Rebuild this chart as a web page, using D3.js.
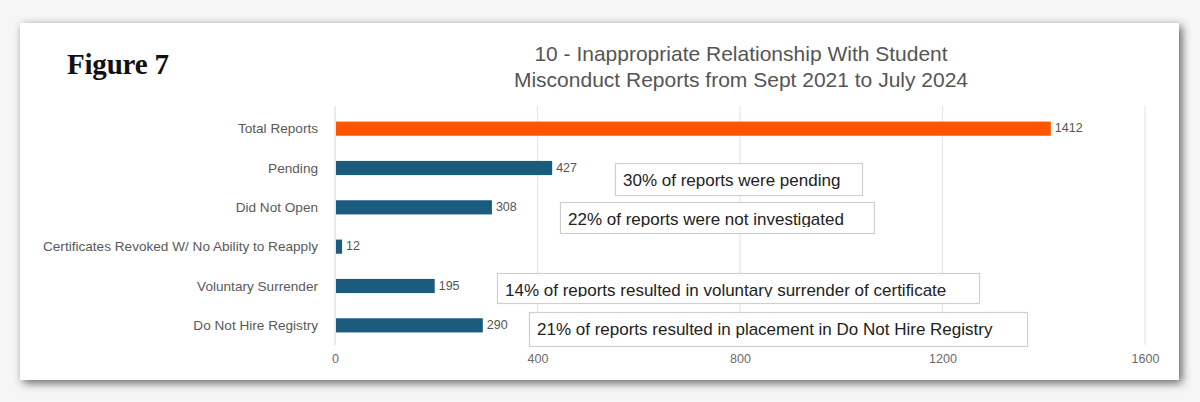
<!DOCTYPE html>
<html>
<head>
<meta charset="utf-8">
<script src="https://cdn.jsdelivr.net/npm/d3@7"></script>
<style>
  html, body { margin: 0; padding: 0; background: #f6f6f6; }
  #chart { width: 1200px; height: 402px; }
  .catLabel { font-family: "Liberation Sans", Arial, sans-serif; font-size: 13.6px; fill: #5a5a5a; }
  .valLabel { font-family: "Liberation Sans", Arial, sans-serif; font-size: 12.5px; fill: #555; }
  .tickLabel { font-family: "Liberation Sans", Arial, sans-serif; font-size: 12.5px; fill: #6a6a6a; }
  .title { font-family: "Liberation Sans", Arial, sans-serif; font-size: 21px; fill: #555; }
  .figure { font-family: "Liberation Serif", "Times New Roman", serif; font-weight: bold; font-size: 29px; fill: #111; letter-spacing: -0.2px; }
  .note { font-family: "Liberation Sans", Arial, sans-serif; font-size: 17px; fill: #222; }
</style>
</head>
<body>
<div id="chart"></div>
<script>
"use strict";

// data
const categories = ["Total Reports", "Pending", "Did Not Open",
                    "Certificates Revoked W/ No Ability to Reapply",
                    "Voluntary Surrender", "Do Not Hire Registry"];
const reportCounts = [1412, 427, 308, 12, 195, 290];
const xTicks = [0, 400, 800, 1200, 1600];
const titleLines = ["10 - Inappropriate Relationship With Student",
                    "Misconduct Reports from Sept 2021 to July 2024"];
const noteTexts = ["30% of reports were pending",
                   "22% of reports were not investigated",
                   "14% of reports resulted in voluntary surrender of certificate",
                   "21% of reports resulted in placement in Do Not Hire Registry"];

// layout of the annotation boxes (pixels), and where their text gets clipped
const noteBoxes = [
    { x: 615, y: 163, w: 247, h: 32, clip: 29 },
    { x: 560, y: 202, w: 314, h: 31, clip: 25 },
    { x: 497, y: 273, w: 482, h: 30, clip: 24 },
    { x: 529, y: 312, w: 498, h: 34, clip: 33 }
];

const width = 1200, height = 402;
const card = { x: 20, y: 23, w: 1159, h: 357 };
const plot = { left: 335, right: 1145, top: 106, bottom: 345 };

let svg = d3.select("#chart").append("svg")
    .attr("width", width)
    .attr("height", height);

//drop shadow for the white card
let defs = svg.append("defs");
let shadow = defs.append("filter")
    .attr("id", "cardShadow")
    .attr("x", "-5%").attr("y", "-10%")
    .attr("width", "110%").attr("height", "125%");
shadow.append("feDropShadow")
    .attr("dx", 3).attr("dy", 3)
    .attr("stdDeviation", 5)
    .attr("flood-color", "#000")
    .attr("flood-opacity", 0.6);

svg.append("rect")
    .attr("x", card.x).attr("y", card.y)
    .attr("width", card.w).attr("height", card.h)
    .attr("fill", "#fff")
    .attr("filter", "url(#cardShadow)");

//scales
let x = d3.scaleLinear()
    .domain([0, 1600])
    .range([plot.left, plot.right]);

let y = d3.scaleBand()
    .domain(categories)
    .range([109, plot.bottom])
    .paddingInner(0.64)
    .paddingOuter(0.32);

//vertical gridlines
svg.append("g")
    .selectAll("line")
    .data(xTicks)
    .join("line")
    .attr("x1", d => x(d)).attr("x2", d => x(d))
    .attr("y1", plot.top).attr("y2", plot.bottom)
    .attr("stroke", d => d === 0 ? "#d6d6d6" : "#e2e2e2")
    .attr("stroke-width", 1);

//tick labels under the plot
let xAxis = d3.axisBottom(x)
    .tickValues(xTicks)
    .tickFormat(d3.format("d"))
    .tickSize(0)
    .tickPadding(0);
let axisG = svg.append("g")
    .attr("transform", `translate(0, ${plot.bottom + 9})`)
    .call(xAxis);
axisG.select(".domain").remove();
axisG.selectAll("text")
    .attr("class", "tickLabel")
    .attr("fill", null)
    .attr("font-family", null)
    .attr("font-size", null)
    .attr("dy", "0.71em");
axisG.attr("font-family", null).attr("font-size", null);

//bars
svg.append("g")
    .selectAll("rect")
    .data(categories)
    .join("rect")
    .attr("x", x(0) + 1)
    .attr("y", d => y(d))
    .attr("width", (d, i) => x(reportCounts[i]) - x(0))
    .attr("height", y.bandwidth())
    .attr("fill", (d, i) => i === 0 ? "#ff5400" : "#1b5b7e");

//category labels
svg.append("g")
    .selectAll("text")
    .data(categories)
    .join("text")
    .classed("catLabel", true)
    .attr("x", plot.left - 17)
    .attr("y", d => y(d) + y.bandwidth() / 2)
    .attr("dy", "0.35em")
    .attr("text-anchor", "end")
    .text(d => d);

//value labels
svg.append("g")
    .selectAll("text")
    .data(categories)
    .join("text")
    .classed("valLabel", true)
    .attr("x", (d, i) => x(reportCounts[i]) + 5)
    .attr("y", d => y(d) + y.bandwidth() / 2)
    .attr("dy", "0.3em")
    .text((d, i) => reportCounts[i]);

//title
svg.append("text")
    .classed("title", true)
    .attr("x", 741)
    .attr("text-anchor", "middle")
    .selectAll("tspan")
    .data(titleLines)
    .join("tspan")
    .attr("x", 741)
    .attr("y", (d, i) => 61 + i * 26)
    .text(d => d);

svg.append("text")
    .classed("figure", true)
    .attr("x", 67)
    .attr("y", 74)
    .text("Figure 7");

//annotation boxes, text clipped at the bottom like in the source
noteBoxes.forEach((b, i) => {
    defs.append("clipPath")
        .attr("id", `noteClip${i}`)
        .append("rect")
        .attr("x", b.x).attr("y", b.y)
        .attr("width", b.w).attr("height", b.clip);
});

let notes = svg.append("g")
    .selectAll("g")
    .data(noteTexts)
    .join("g");

notes.append("rect")
    .attr("x", (d, i) => noteBoxes[i].x + 0.5)
    .attr("y", (d, i) => noteBoxes[i].y + 0.5)
    .attr("width", (d, i) => noteBoxes[i].w)
    .attr("height", (d, i) => noteBoxes[i].h)
    .attr("fill", "#fff")
    .attr("stroke", "#cfcfcf")
    .attr("stroke-width", 1.2);

notes.append("text")
    .classed("note", true)
    .attr("clip-path", (d, i) => `url(#noteClip${i})`)
    .attr("x", (d, i) => noteBoxes[i].x + 8)
    .attr("y", (d, i) => noteBoxes[i].y + 23)
    .text(d => d);
</script>
</body>
</html>
